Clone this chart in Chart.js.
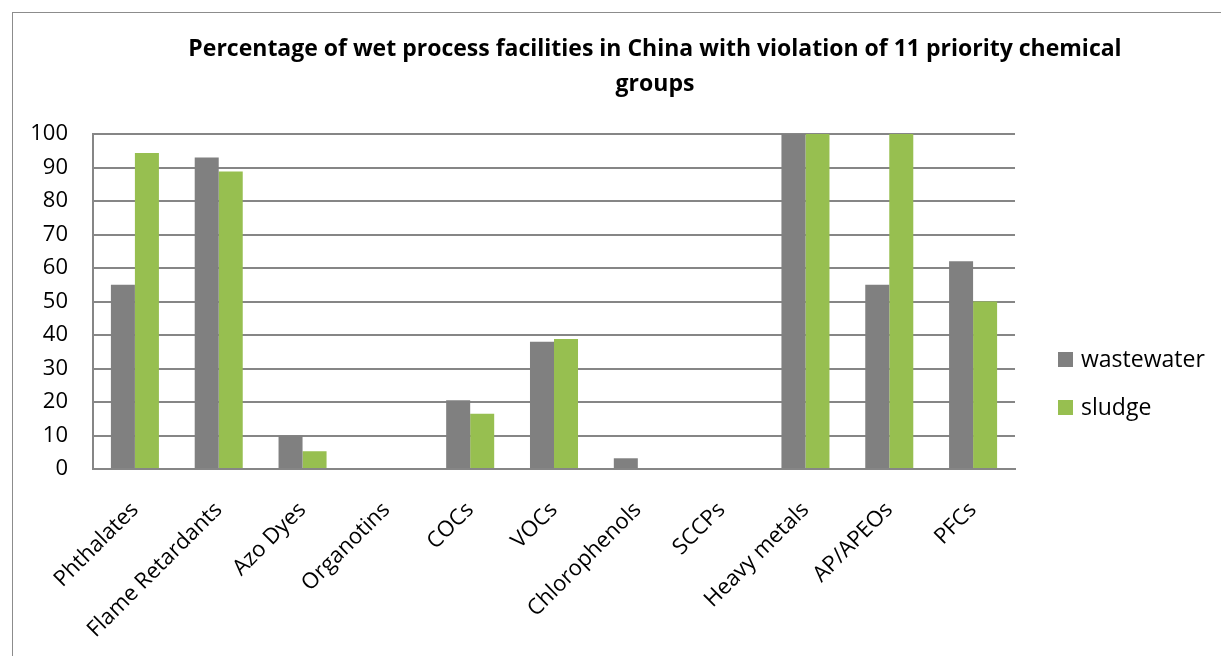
<!DOCTYPE html>
<html>
<head>
<meta charset="utf-8">
<script src="https://cdn.jsdelivr.net/npm/chart.js@4.4.1/dist/chart.umd.min.js"></script>
<style>
  html, body { margin: 0; padding: 0; background: #ffffff; }
  #wrap { position: relative; width: 1221px; height: 656px; overflow: hidden; }
  #frame { position: absolute; left: 12px; top: 12px; width: 1300px; height: 700px;
           border: 1px solid #8c8c8c; box-sizing: border-box; }
  canvas { position: absolute; left: 0; top: 0; }
</style>
</head>
<body>
<div id="wrap">
  <div id="frame"></div>
  <canvas id="c" width="1221" height="656"></canvas>
</div>
<script>
// Chemical groups checked at each facility
const categories = ["Phthalates", "Flame Retardants", "Azo Dyes", "Organotins", "COCs", "VOCs",
                    "Chlorophenols", "SCCPs", "Heavy metals", "AP/APEOs", "PFCs"];
// Share of facilities (%) with a violation, by sample type
const wastewater = [55, 93, 10, 0, 20.5, 38, 3.2, 0, 100, 55, 62];
const sludge     = [94.3, 88.8, 5.3, 0, 16.5, 38.8, 0, 0, 100, 100, 50];
const yTicks = [0, 10, 20, 30, 40, 50, 60, 70, 80, 90, 100];
const titleLines = ["Percentage of wet process facilities in China with violation of 11 priority chemical", "groups"];

const FONT = "'Open Sans', Lato, sans-serif";
const GRID = "#868686";

// Two-line heading, centred over the chart frame
const headingPlugin = {
  id: "heading",
  afterDraw(chart) {
    const ctx = chart.ctx;
    ctx.save();
    ctx.fillStyle = "#000000";
    ctx.font = "bold 23px " + FONT;
    ctx.textAlign = "center";
    ctx.textBaseline = "middle";
    ctx.fillText(titleLines[0], 655, 49);
    ctx.fillText(titleLines[1], 655, 84);
    ctx.restore();
  }
};

// Series key stacked to the right of the plot
const sideLegendPlugin = {
  id: "sideLegend",
  afterDraw(chart) {
    const ctx = chart.ctx;
    const x = chart.chartArea.right + 43;
    const rows = [359, 407];
    ctx.save();
    ctx.font = "23px " + FONT;
    ctx.textBaseline = "middle";
    ctx.textAlign = "left";
    chart.data.datasets.forEach((ds, i) => {
      const y = rows[i];
      ctx.fillStyle = ds.backgroundColor;
      ctx.fillRect(x, y - 7, 15, 15);
      ctx.fillStyle = "#000000";
      ctx.fillText(ds.label, x + 23, y + 1);
    });
    ctx.restore();
  }
};

new Chart(document.getElementById("c"), {
  type: "bar",
  data: {
    labels: categories,
    datasets: [
      { label: "wastewater", data: wastewater, backgroundColor: "#808080" },
      { label: "sludge", data: sludge, backgroundColor: "#97bf50" }
    ]
  },
  plugins: [headingPlugin, sideLegendPlugin],
  options: {
    responsive: false,
    animation: false,
    layout: { padding: { left: 20, right: 206, top: 134, bottom: 0 } },
    datasets: { bar: { categoryPercentage: 0.573, barPercentage: 1.0 } },
    plugins: {
      title: { display: false },
      legend: { display: false },
      tooltip: { enabled: false }
    },
    scales: {
      x: {
        grid: { display: false, drawTicks: false },
        border: { color: GRID, width: 2 },
        ticks: {
          color: "#000000",
          font: { family: FONT, size: 22 },
          maxRotation: 45, minRotation: 45,
          padding: 28,
          autoSkip: false
        },
        afterFit: (s) => { s.height = 656 - 469; }
      },
      y: {
        min: 0, max: 100,
        afterBuildTicks: (s) => { s.ticks = yTicks.map(v => ({ value: v })); },
        grid: { color: GRID, lineWidth: 2, drawTicks: false },
        border: { color: GRID, width: 2 },
        ticks: {
          color: "#000000",
          font: { family: FONT, size: 22 },
          padding: 25
        },
        afterFit: (s) => { s.width = 93 - 20; }
      }
    }
  }
});
</script>
</body>
</html>
